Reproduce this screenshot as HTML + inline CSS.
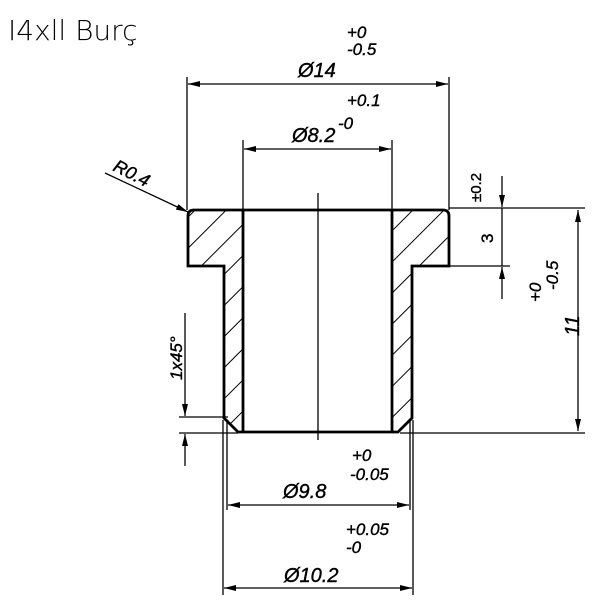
<!DOCTYPE html>
<html><head><style>html,body{margin:0;padding:0;background:#fff}svg{display:block}</style></head><body>
<svg width="600" height="601" viewBox="0 0 600 601" xmlns="http://www.w3.org/2000/svg">
<defs>
<pattern id="h" patternUnits="userSpaceOnUse" width="22" height="22" patternTransform="rotate(45)">
<line x1="0" y1="0" x2="0" y2="22" stroke="#000" stroke-width="2"/>
</pattern>
<marker id="a" viewBox="0 0 12 6" refX="12" refY="3" markerWidth="13" markerHeight="6" orient="auto-start-reverse" markerUnits="userSpaceOnUse">
<path d="M0,0 L12,3 L0,6 Z" fill="#000"/></marker>
</defs>
<text x="8" y="40" font-family="DejaVu Sans, sans-serif" font-size="28" font-weight="300" fill="#000">I4xll Burç</text>
<path d="M188,216 Q188,210 194,210 L243,210 L243,432 L237,432 L224,418 L224,266 L188,266 Z" fill="url(#h)"/>
<path d="M392,210 L443,210 Q449,210 449,216 L449,266 L412,266 L412,418 L399,432 L392,432 Z" fill="url(#h)"/>
<g fill="none" stroke="#000" stroke-width="2.8">
<path d="M188,216 Q188,210 194,210 L443,210 Q449,210 449,216 L449,266 L412,266 L412,418 L398,432 L238,432 L224,418 L224,266 L188,266 Z"/>
<line x1="243" y1="210" x2="243" y2="432"/>
<line x1="392" y1="210" x2="392" y2="432"/>
</g>
<g stroke="#000" stroke-width="1.3" fill="none">
<line x1="318" y1="193" x2="318" y2="440"/>
<line x1="187" y1="77" x2="187" y2="210"/><line x1="449" y1="77" x2="449" y2="210"/>
<line x1="188" y1="84" x2="448" y2="84" marker-start="url(#a)" marker-end="url(#a)"/>
<line x1="243" y1="140" x2="243" y2="210"/><line x1="392" y1="140" x2="392" y2="210"/>
<line x1="244" y1="149" x2="391" y2="149" marker-start="url(#a)" marker-end="url(#a)"/>
<line x1="223" y1="420" x2="223" y2="595"/><line x1="413" y1="420" x2="413" y2="595"/>
<line x1="227" y1="420" x2="227" y2="510"/><line x1="410" y1="420" x2="410" y2="510"/>
<line x1="228" y1="505" x2="409" y2="505" marker-start="url(#a)" marker-end="url(#a)"/>
<line x1="224" y1="588" x2="412" y2="588" marker-start="url(#a)" marker-end="url(#a)"/>
<line x1="449" y1="208" x2="585" y2="208"/>
<line x1="449" y1="266" x2="510" y2="266"/>
<line x1="400" y1="433" x2="585" y2="433"/>
<line x1="578" y1="210" x2="578" y2="431" marker-start="url(#a)" marker-end="url(#a)"/>
<line x1="502" y1="176" x2="502" y2="207" marker-end="url(#a)"/>
<line x1="502" y1="208" x2="502" y2="266"/>
<line x1="502" y1="299" x2="502" y2="267" marker-end="url(#a)"/>
<line x1="179" y1="417" x2="228" y2="417"/>
<line x1="179" y1="433" x2="238" y2="433"/>
<line x1="185" y1="313" x2="185" y2="416" marker-end="url(#a)"/>
<line x1="185" y1="466" x2="185" y2="434" marker-end="url(#a)"/>
<line x1="105" y1="173" x2="188" y2="212" marker-end="url(#a)"/>
</g>
<g font-family="Liberation Sans, sans-serif" font-style="italic" font-size="20" fill="#000" stroke="#000" stroke-width="0.4">
<text x="298" y="77">Ø14</text>
<text x="347" y="38" font-size="17">+0</text>
<text x="347" y="55" font-size="17">-0.5</text>
<text x="292" y="142">Ø8.2</text>
<text x="347" y="106" font-size="17">+0.1</text>
<text x="338" y="129" font-size="17">-0</text>
<text x="283" y="498">Ø9.8</text>
<text x="352" y="461" font-size="17">+0</text>
<text x="350" y="480" font-size="17">-0.05</text>
<text x="284" y="582">Ø10.2</text>
<text x="346" y="535" font-size="17">+0.05</text>
<text x="346" y="553" font-size="17">-0</text>
<text transform="translate(112,170) rotate(27)" font-size="18">R0.4</text>
<text transform="translate(182,380) rotate(-90)" font-size="17">1x45°</text>
<text transform="translate(493,243) rotate(-90)" font-style="normal" font-size="17">3</text>
<text transform="translate(481,202) rotate(-90)" font-style="normal" font-size="15">±0.2</text>
<text transform="translate(541,302) rotate(-90)" font-size="17">+0</text>
<text transform="translate(558,290) rotate(-90)" font-size="17">-0.5</text>
<text transform="translate(579,336) rotate(-90)" font-size="20">11</text>
</g>
</svg>
</body></html>
